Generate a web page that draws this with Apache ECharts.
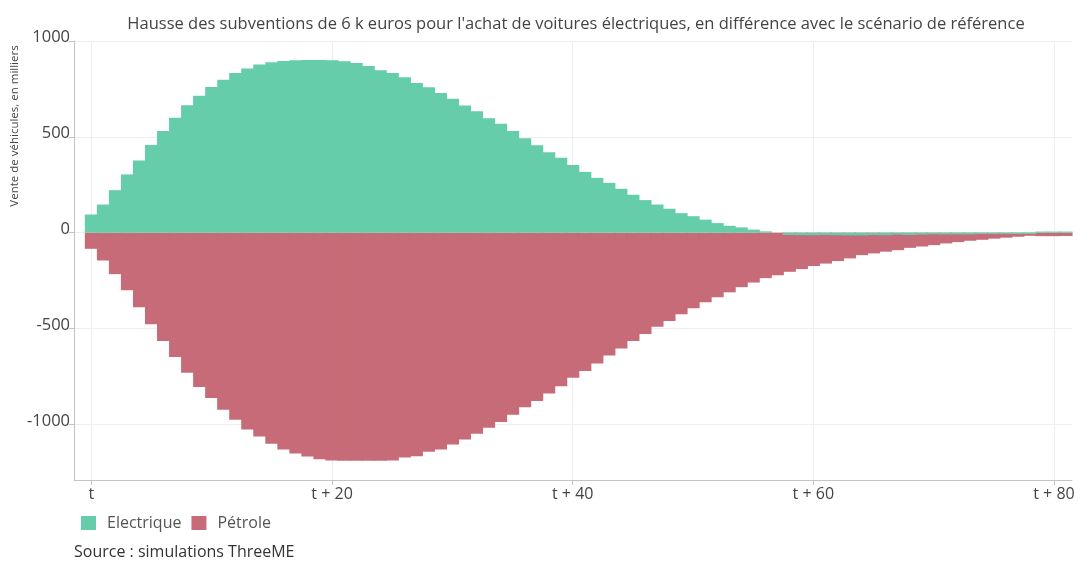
<!DOCTYPE html>
<html>
<head>
<meta charset="utf-8">
<script src="https://cdn.jsdelivr.net/npm/echarts@6/dist/echarts.min.js"></script>
<style>
  html, body { margin: 0; padding: 0; background: #fff; }
  #chart { width: 1078px; height: 561px; }
</style>
</head>
<body>
<div id="chart"></div>
<script>
// difference with the reference scenario, thousands of vehicles, t .. t+81
const electrique = [
  95, 147, 222, 304, 377, 458, 531, 599, 665, 715,
  760, 798, 833, 856, 878, 889, 896, 900, 901, 901,
  899, 894, 885, 870, 847, 833, 811, 781, 759, 729,
  699, 663, 633, 597, 568, 531, 493, 456, 420, 391,
  353, 317, 286, 260, 229, 198, 170, 147, 125, 102,
  86, 68, 50, 36, 28, 16, 7, 0, -12, -13,
  -13, -12, -13, -14, -14, -12, -13, -10, -12, -10,
  -8, -9, -9, -9, -7, -7, -7, -7, -7, 6,
  6, 6
];
const petrole = [
  -84, -145, -216, -300, -389, -478, -565, -648, -731, -805,
  -862, -923, -976, -1026, -1063, -1101, -1131, -1152, -1168, -1182,
  -1188, -1190, -1190, -1190, -1189, -1188, -1173, -1166, -1143, -1131,
  -1105, -1079, -1049, -1017, -988, -949, -911, -878, -839, -801,
  -757, -721, -682, -640, -604, -565, -529, -490, -461, -426,
  -394, -363, -337, -311, -284, -260, -237, -222, -204, -190,
  -174, -161, -148, -134, -117, -108, -99, -91, -79, -72,
  -65, -56, -49, -42, -37, -31, -26, -21, -16, -18,
  -18, -17
];
const tickSteps = [0, 20, 40, 60, 80];
const tickLabels = ['t', 't + 20', 't + 40', 't + 60', 't + 80'];

const FONT = '"Open Sans", "Noto Sans", sans-serif';
const GREEN = '#66cdaa';
const RED = '#c76b78';

const chart = echarts.init(document.getElementById('chart'), null, { renderer: 'canvas' });

chart.setOption({
  animation: false,
  backgroundColor: '#fff',
  textStyle: { fontFamily: FONT },
  title: {
    text: "Hausse des subventions de 6 k euros pour l'achat de voitures électriques, en différence avec le scénario de référence",
    left: 571,
    textAlign: 'center',
    top: 11,
    textStyle: { fontFamily: FONT, fontSize: 16.5, fontWeight: 'normal', color: '#444' }
  },
  grid: { left: 74, right: 6, top: 41, bottom: 81 },
  legend: {
    data: ['Electrique', 'Pétrole'],
    left: 76,
    top: 510,
    icon: 'rect',
    itemWidth: 15,
    itemHeight: 14,
    itemGap: 10,
    textStyle: { fontFamily: FONT, fontSize: 16, color: '#555', padding: [0, 0, 0, 6] }
  },
  graphic: [
    {
      type: 'text',
      x: 15,
      y: 126,
      rotation: Math.PI / 2,
      style: {
        text: 'Vente de véhicules, en milliers',
        font: '11.5px ' + FONT,
        fill: '#444',
        textAlign: 'center',
        textVerticalAlign: 'middle'
      }
    },
    {
      type: 'text',
      x: 74,
      y: 552,
      style: {
        text: 'Source : simulations ThreeME',
        font: '16px ' + FONT,
        fill: '#333',
        textAlign: 'left',
        textVerticalAlign: 'middle'
      }
    }
  ],
  xAxis: {
    type: 'value',
    min: -1.45,
    max: 81.5,
    axisLine: { show: true, onZero: false, lineStyle: { color: '#c4c4c4' } },
    axisTick: { show: true, length: 5, lineStyle: { color: '#c4c4c4' } },
    axisLabel: {
      fontSize: 16,
      color: '#444',
      margin: 6,
      showMinLabel: false,
      showMaxLabel: false,
      formatter: v => {
        const i = tickSteps.indexOf(v);
        return i >= 0 ? tickLabels[i] : '';
      }
    },
    splitLine: { show: true, showMaxLine: false, lineStyle: { color: '#eeeeee' } }
  },
  yAxis: {
    type: 'value',
    min: -1290,
    max: 1000,
    axisLine: { show: true, onZero: false, lineStyle: { color: '#c4c4c4' } },
    axisTick: { show: true, length: 5, lineStyle: { color: '#c4c4c4' } },
    axisLabel: {
      fontSize: 16.5,
      color: '#444',
      margin: 4,
      showMinLabel: false,
      verticalAlign: 'bottom',
      lineHeight: 7,
      formatter: v => String(v)
    },
    splitLine: { show: true, lineStyle: { color: '#eeeeee' } }
  },
  series: [
    {
      name: 'Pétrole',
      type: 'bar',
      stack: 'total',
      barWidth: '110%',
      itemStyle: { color: RED },
      data: petrole.map((v, i) => [i, v])
    },
    {
      name: 'Electrique',
      type: 'bar',
      stack: 'total',
      barWidth: '110%',
      itemStyle: { color: GREEN },
      data: electrique.map((v, i) => [i, v])
    }
  ]
});
</script>
</body>
</html>
